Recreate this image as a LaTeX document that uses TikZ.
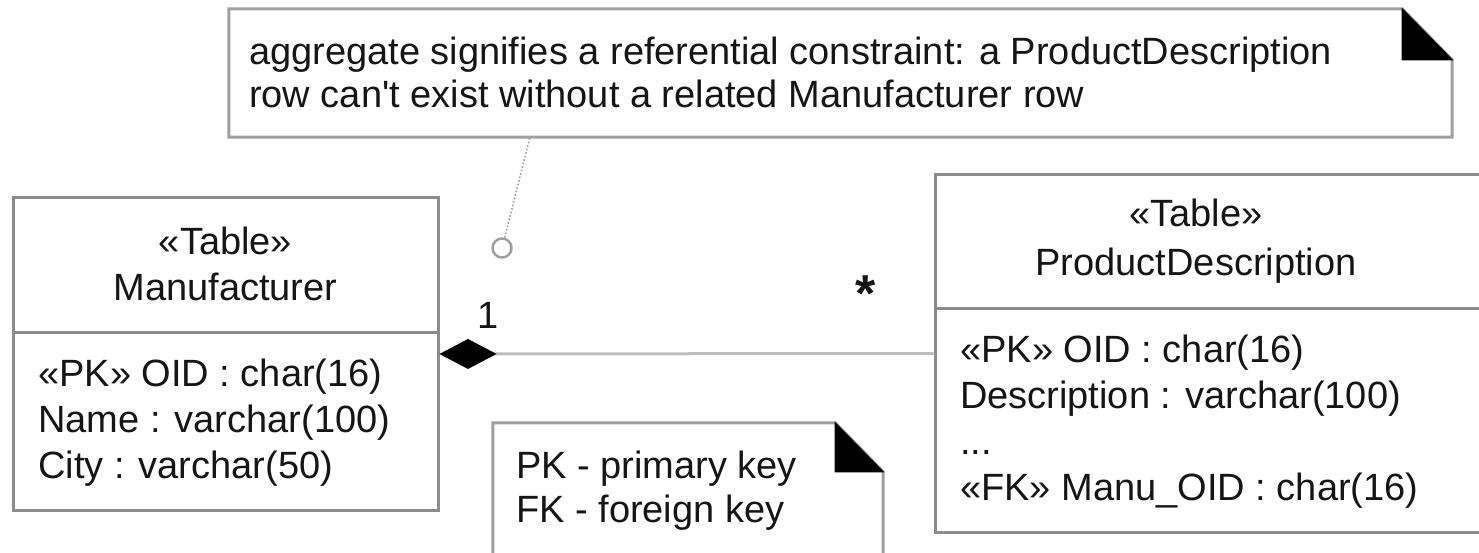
\documentclass[tikz,border=0pt]{standalone}
\usepackage{fontspec}
\setmainfont{Liberation Sans}
\usetikzlibrary{arrows.meta}
\definecolor{boxline}{HTML}{8C8C8C}
\definecolor{noteline}{HTML}{A0A0A0}
\definecolor{assocline}{HTML}{BDBDBD}
\definecolor{txt}{HTML}{151515}
\newcommand{\straightapos}{{\XeTeXglyph\XeTeXcharglyph"27\relax}}
\tikzset{
  tablebox/.style={draw=boxline, line width=3pt, rectangle, inner sep=0pt},
  divider/.style={draw=boxline, line width=3pt},
  noteedge/.style={draw=noteline, line width=3pt, line join=miter},
  fold/.style={fill=black, draw=black, line width=1pt},
  txtline/.style={inner sep=0pt, text=txt, align=left, anchor=base west},
  titletxt/.style={inner sep=0pt, text=txt, align=center, anchor=base},
  assoc/.style={draw=assocline, line width=3pt},
  anchorline/.style={draw=noteline, line width=1.6pt, dotted},
}
\begin{document}
\begin{tikzpicture}[x=1pt,y=-1pt,font=\fontsize{38}{46}\selectfont]
\useasboundingbox (0,0) rectangle (1479,553);

% Manufacturer table
\node[tablebox, minimum width=425pt, minimum height=312pt] (manu) at (225.5,354) {};
\draw[divider] (13,332) -- (438,332);
\node[titletxt] (manutitle) at (225.5,300) {«Table»\\Manufacturer};
\node[txtline] (manuattr) at (38,478) {«PK» OID : char(16)\\Name : varchar(100)\\City : varchar(50)};

% ProductDescription table
\node[tablebox, minimum width=560pt, minimum height=357pt] (prod) at (1215,353.5) {};
\draw[divider] (935,308) -- (1495,308);
\node[titletxt] (prodtitle) at (1196,275) {«Table»\\[2pt]ProductDescription};
\node[txtline] (prodattr) at (960,500) {«PK» OID : char(16)\\Description : varchar(100)\\...\\«FK» Manu\_OID : char(16)};

% association (composite aggregation)
\draw[assoc, {Diamond[length=57pt,width=30pt,fill=black,color=black]}-] (manu.east) -- (prod.west);
\node[inner sep=0pt, text=txt, anchor=base] (mult1) at (488,328) {1};
\node[inner sep=0pt, text=txt] (multstar) at (866,294) {\fontsize{52}{52}\selectfont\bfseries *};

% top note
\node[minimum width=1223pt, minimum height=128pt, inner sep=0pt] (topnote) at (840.5,73) {};
\draw[noteedge] (topnote.south west) -- (topnote.north west) -- ([xshift=-50pt]topnote.north east) -- ([yshift=-51pt]topnote.north east) -- (topnote.south east) -- cycle;
\fill[fold] ([xshift=-50pt]topnote.north east) -- ([xshift=-50pt,yshift=-51pt]topnote.north east) -- ([yshift=-51pt]topnote.north east) -- cycle;
\node[txtline, align=left] (topnotetxt) at (249,108) {aggregate signifies a referential constraint: a ProductDescription\\[-3pt]row can\straightapos t exist without a related Manufacturer row};

% note anchor
\node[circle, draw=noteline, line width=2.5pt, minimum size=19pt, inner sep=0pt] (anc) at (502,248) {};
\coordinate (ancend) at (530,137);
\draw[anchorline] (anc) -- (ancend);

% bottom note
\node[minimum width=390pt, minimum height=140pt, inner sep=0pt] (keynote) at (688,493) {};
\draw[noteedge] ([yshift=-20pt]keynote.south west) -- (keynote.north west) -- ([xshift=-48pt]keynote.north east) -- ([yshift=-49pt]keynote.north east) -- ([yshift=-20pt]keynote.south east);
\fill[fold] ([xshift=-48pt]keynote.north east) -- ([xshift=-48pt,yshift=-49pt]keynote.north east) -- ([yshift=-49pt]keynote.north east) -- cycle;
\node[txtline] (keynotetxt) at (516,522) {PK - primary key\\[-2pt]FK - foreign key};
\end{tikzpicture}
\end{document}
